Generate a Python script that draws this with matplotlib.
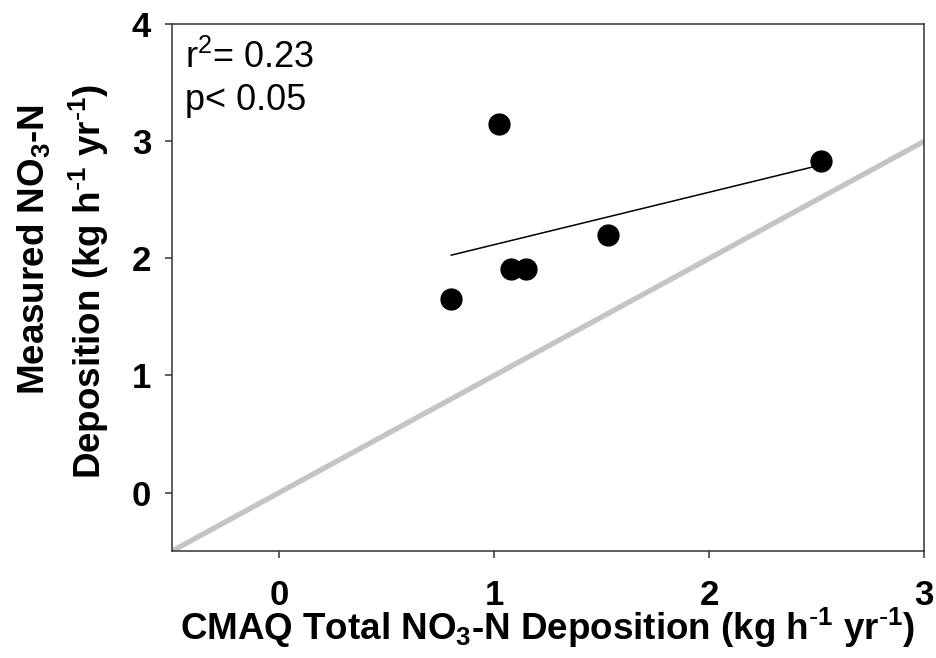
import numpy as np
import matplotlib
matplotlib.use('Agg')
import matplotlib.pyplot as plt

plt.rcParams['font.family'] = ['Liberation Sans', 'DejaVu Sans']
plt.rcParams['mathtext.default'] = 'regular'

# data
cmaq_total = [0.80, 1.02, 1.08, 1.15, 1.53, 2.52]
measured = [1.65, 3.15, 1.91, 1.91, 2.20, 2.83]
one_to_one = [-0.5, 3.0]
x_ticks = [0, 1, 2, 3]
y_ticks = [0, 1, 2, 3, 4]
r2_text = 'r$^2$= 0.23'
p_text = 'p< 0.05'
unit = r'(kg h$^{\text{-}1}$ yr$^{\text{-}1}$)'

fig = plt.figure(figsize=(9.36, 6.58), dpi=100)
ax = fig.add_axes([0.1838, 0.1626, 0.8032, 0.8002])

# 1:1 line
ax.plot(one_to_one, one_to_one, color='#c4c4c4', lw=3.8, solid_capstyle='round', zorder=1)

# regression line over the data range
slope, intercept = np.polyfit(cmaq_total, measured, 1)
xfit = np.array([min(cmaq_total), max(cmaq_total)])
ax.plot(xfit, slope * xfit + intercept, color='black', lw=1.1, zorder=2)

ax.plot(cmaq_total, measured, 'o', color='black', ms=15, zorder=3)

ax.set_xlim(-0.5, 3)
ax.set_ylim(-0.5, 4)
ax.set_xticks(x_ticks)
ax.set_yticks(y_ticks)
ax.tick_params(axis='both', direction='out', length=5, width=1.1, color='#333333',
               labelsize=25)
ax.tick_params(axis='x', pad=15)
ax.tick_params(axis='y', pad=10)
for lab in ax.get_xticklabels() + ax.get_yticklabels():
    lab.set_fontweight('bold')
for s in ax.spines.values():
    s.set_linewidth(1.1)
    s.set_color('#333333')

ax.text(0.017, 0.917, r2_text, transform=ax.transAxes, fontsize=26, va='baseline')
ax.text(0.017, 0.837, p_text, transform=ax.transAxes, fontsize=26, va='baseline')

fig.text(548 / 936, 1 - 640 / 658,
         'CMAQ Total NO$_3$-N Deposition ' + unit,
         fontsize=26.5, fontweight='bold', ha='center', va='baseline')
fig.text(44 / 936, 1 - 250 / 658, 'Measured NO$_3$-N',
         fontsize=26.5, fontweight='bold', rotation=90, rotation_mode='anchor',
         ha='center', va='baseline')
fig.text(101 / 936, 1 - 281 / 658, 'Deposition ' + unit,
         fontsize=26.5, fontweight='bold', rotation=90, rotation_mode='anchor',
         ha='center', va='baseline')

fig.savefig('out.png', dpi=100)
